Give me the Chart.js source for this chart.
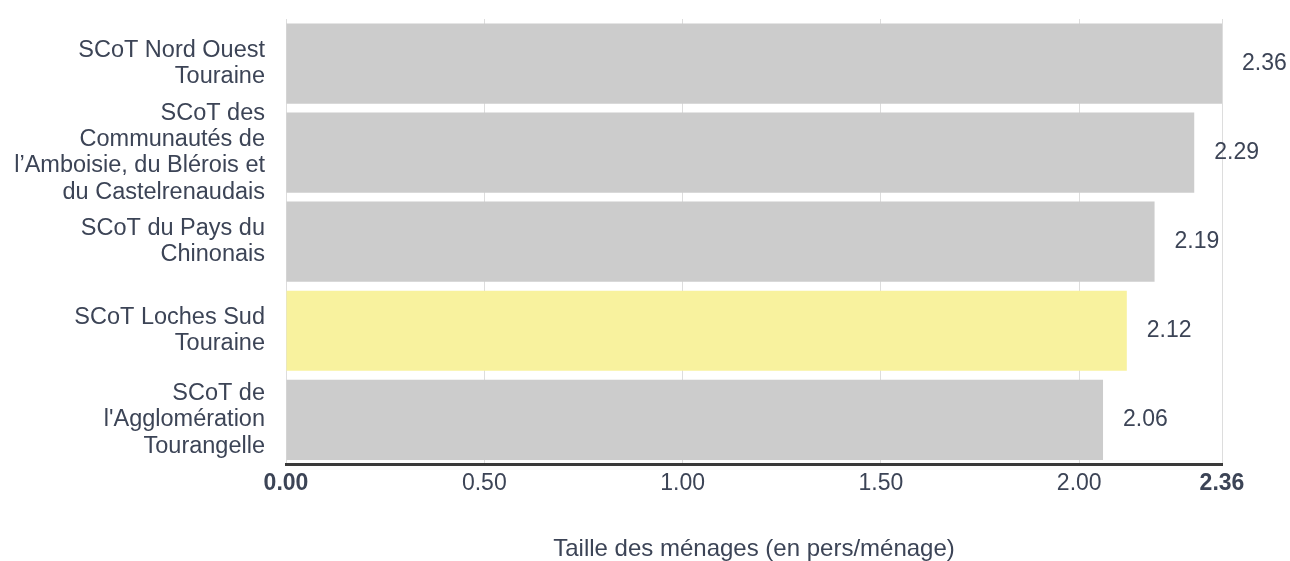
<!DOCTYPE html>
<html>
<head>
<meta charset="utf-8">
<script src="https://cdn.jsdelivr.net/npm/chart.js@4"></script>
<style>
  html, body { margin: 0; padding: 0; background: #fff; }
  #wrap { width: 1290px; height: 561px; position: relative; }
</style>
</head>
<body>
<div id="wrap"><canvas id="chrt"></canvas></div>
<script>
const CATEGORIES = [
  ["SCoT Nord Ouest", "Touraine"],
  ["SCoT des", "Communautés de", "l’Amboisie, du Blérois et", "du Castelrenaudais"],
  ["SCoT du Pays du", "Chinonais"],
  ["SCoT Loches Sud", "Touraine"],
  ["SCoT de", "l'Agglomération", "Tourangelle"],
];
const VALUES = [2.36, 2.29, 2.19, 2.12, 2.06];
const HIGHLIGHT = 3;
const TICKS = [0, 0.5, 1, 1.5, 2, 2.36];
const X_TITLE = "Taille des ménages (en pers/ménage)";

const TXT = "#3c4456";
const FONT = "'Liberation Sans', Arial, sans-serif";

const barColors = VALUES.map((v, i) => (i == HIGHLIGHT ? "#f8f29e" : "#cccccc"));

// etiquetas de valor a la derecha de cada barra
const valueLabels = {
  id: "valueLabels",
  afterDatasetsDraw(chart) {
    const c = chart.ctx;
    const meta = chart.getDatasetMeta(0);
    c.save();
    c.font = "23px " + FONT;
    c.fillStyle = TXT;
    c.textAlign = "left";
    c.textBaseline = "middle";
    meta.data.forEach((bar, i) => {
      c.fillText(VALUES[i].toFixed(2), bar.x + 20, bar.y);
    });
    c.restore();
  },
};

new Chart(document.getElementById("chrt"), {
  type: "bar",
  data: {
    labels: CATEGORIES,
    datasets: [{
      data: VALUES,
      backgroundColor: barColors,
      borderWidth: 0,
      barPercentage: 0.9,
      categoryPercentage: 1,
    }],
  },
  plugins: [valueLabels],
  options: {
    indexAxis: "y",
    responsive: true,
    maintainAspectRatio: false,
    animation: false,
    layout: { padding: { top: 19, right: 68, left: 0, bottom: 0 } },
    plugins: {
      legend: { display: false },
      tooltip: { enabled: false },
    },
    scales: {
      x: {
        min: 0,
        max: 2.36,
        afterBuildTicks: (axis) => {
          axis.ticks = TICKS.map((v) => ({ value: v }));
        },
        afterFit: (axis) => {
          axis.paddingLeft = 0;
          axis.paddingRight = 0;
        },
        grid: { color: "#dddddd", lineWidth: 1, drawTicks: false },
        border: { color: "#3a3a3a", width: 3 },
        ticks: {
          padding: 5,
          autoSkip: false,
          maxRotation: 0,
          color: TXT,
          font: (ctx) => {
            const v = ctx.tick ? ctx.tick.value : null;
            const b = v === 0 || v === 2.36;
            return { family: FONT, size: 23, weight: b ? "bold" : "normal" };
          },
          callback: (value) => Number(value).toFixed(2),
        },
        title: {
          display: true,
          text: X_TITLE,
          color: TXT,
          font: { family: FONT, size: 24, lineHeight: 1 },
          padding: { top: 35, bottom: 0 },
        },
      },
      y: {
        afterFit: (axis) => {
          axis.width = 286;
          axis.paddingTop = 0;
          axis.paddingBottom = 0;
        },
        grid: { display: false, drawTicks: false },
        border: { display: false },
        ticks: {
          padding: 21,
          autoSkip: false,
          color: TXT,
          font: { family: FONT, size: 23.5, lineHeight: 1.12 },
        },
      },
    },
  },
});
</script>
</body>
</html>
